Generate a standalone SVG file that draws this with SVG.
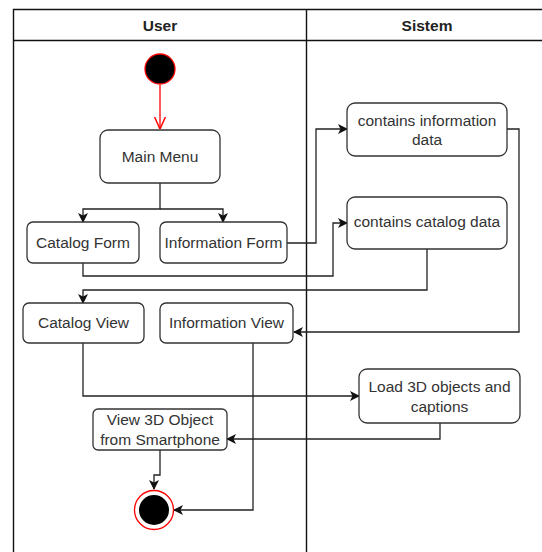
<svg xmlns="http://www.w3.org/2000/svg" width="542" height="552" viewBox="0 0 542 552">
<style>
.box{fill:#fff;stroke:#333;stroke-width:1.3}
.t{font-family:"Liberation Sans",Arial,sans-serif;font-size:15.5px;fill:#333;text-anchor:middle}
.h{font-family:"Liberation Sans",Arial,sans-serif;font-size:15.5px;font-weight:bold;fill:#222;text-anchor:middle}
.c{fill:none;stroke:#222;stroke-width:1.3}
.lane{fill:none;stroke:#111;stroke-width:1.4}
</style>
<defs>
<marker id="a" viewBox="0 0 10 10" refX="9" refY="5" markerWidth="10" markerHeight="10" markerUnits="userSpaceOnUse" orient="auto">
<path d="M0,0 L10,5 L0,10 L2.5,5 Z" fill="#111"/>
</marker>
<marker id="r" viewBox="0 0 10 10" refX="10" refY="5" markerWidth="12" markerHeight="12" markerUnits="userSpaceOnUse" orient="auto">
<path d="M0,0.5 L10,5 L0,9.5" fill="none" stroke="#f00" stroke-width="1.2"/>
</marker>
</defs>
<rect width="542" height="552" fill="#fff"/>
<g id="pool">
<path class="lane" d="M13.5,553 V9.5 H543 M13.5,40.5 H543 M306.5,9.5 V553"/>
<text class="h" x="160" y="30.5">User</text>
<text class="h" x="427" y="30.5">Sistem</text>
</g>
<g id="connectors">
<path d="M160,85 V129" fill="none" stroke="#f00" stroke-width="1.3" marker-end="url(#r)"/>
<path class="c" d="M160,183 V209 H83 V222" marker-end="url(#a)"/>
<path class="c" d="M160,209 H223 V222" marker-end="url(#a)"/>
<path class="c" d="M287,243 H316 V129 H347" marker-end="url(#a)"/>
<path class="c" d="M83,263 V276 H333 V223 H347" marker-end="url(#a)"/>
<path class="c" d="M427,249 V290 H83 V303" marker-end="url(#a)"/>
<path class="c" d="M507,129 H519 V332 H294" marker-end="url(#a)"/>
<path class="c" d="M83,343 V396 H359" marker-end="url(#a)"/>
<path class="c" d="M440,423 V439 H227" marker-end="url(#a)"/>
<path class="c" d="M160,450 V475 H154 V489" marker-end="url(#a)"/>
<path class="c" d="M253,343 V510 H174" marker-end="url(#a)"/>
</g>
<g id="start"><circle cx="160" cy="69" r="15" fill="#000" stroke="#f00" stroke-width="1.3"/></g>
<g id="mainMenu"><rect class="box" x="100" y="130" width="120" height="53" rx="8"/><text class="t" x="160" y="161.5">Main Menu</text></g>
<g id="catalogForm"><rect class="box" x="27" y="222" width="112" height="41" rx="6"/><text class="t" x="83" y="248">Catalog Form</text></g>
<g id="infoForm"><rect class="box" x="160" y="222" width="127" height="41" rx="6"/><text class="t" x="223.5" y="248">Information Form</text></g>
<g id="infoData"><rect class="box" x="347" y="103" width="160" height="53" rx="8"/><text class="t" x="427" y="125.5">contains information</text><text class="t" x="427" y="145">data</text></g>
<g id="catalogData"><rect class="box" x="347" y="197" width="160" height="52" rx="8"/><text class="t" x="427" y="227">contains catalog data</text></g>
<g id="catalogView"><rect class="box" x="23" y="303" width="121" height="40" rx="6"/><text class="t" x="83.5" y="328">Catalog View</text></g>
<g id="infoView"><rect class="box" x="160" y="303" width="133" height="40" rx="6"/><text class="t" x="226.5" y="328">Information View</text></g>
<g id="load3d"><rect class="box" x="359" y="369" width="161" height="54" rx="8"/><text class="t" x="439.5" y="391.5">Load 3D objects and</text><text class="t" x="439.5" y="411.5">captions</text></g>
<g id="view3d"><rect class="box" x="93" y="409" width="134" height="41" rx="5"/><text class="t" x="160" y="425">View 3D Object</text><text class="t" x="160" y="445">from Smartphone</text></g>
<g id="end"><circle cx="154" cy="510" r="19.5" fill="#fff" stroke="#f00" stroke-width="1.3"/><circle cx="154" cy="510" r="15" fill="#000"/></g>
</svg>
